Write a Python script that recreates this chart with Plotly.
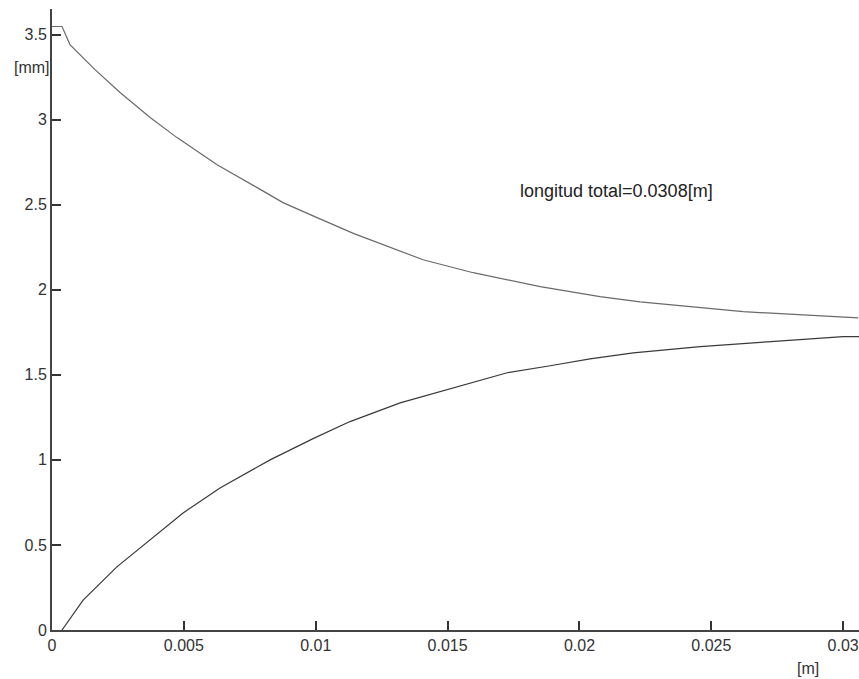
import plotly.graph_objects as go

# Upper profile (x in m, y in mm)
upper_x = [0.0, 0.00038, 0.00068, 0.00163, 0.00258, 0.00372, 0.00474, 0.00626,
           0.00778, 0.00876, 0.01005, 0.01145, 0.01407, 0.01597, 0.01851,
           0.02078, 0.02230, 0.02621, 0.03057]
upper_y = [3.547, 3.547, 3.441, 3.294, 3.159, 3.012, 2.894, 2.735,
           2.600, 2.512, 2.424, 2.33, 2.176, 2.100, 2.018,
           1.959, 1.929, 1.871, 1.835]

# Lower profile
lower_x = [0.00038, 0.00118, 0.00246, 0.00372, 0.00497, 0.00637, 0.00827,
           0.00990, 0.01130, 0.01320, 0.01528, 0.01726, 0.01889, 0.02040,
           0.02204, 0.02458, 0.02712, 0.02951, 0.03000, 0.03060]
lower_y = [0.0, 0.176, 0.371, 0.529, 0.688, 0.835, 1.000,
           1.125, 1.225, 1.335, 1.424, 1.512, 1.553, 1.594,
           1.629, 1.665, 1.694, 1.718, 1.724, 1.724]

x_ticks = [0, 0.005, 0.01, 0.015, 0.02, 0.025, 0.03]
x_tick_labels = ["0", "0.005", "0.01", "0.015", "0.02", "0.025", "0.03"]
y_ticks = [0, 0.5, 1, 1.5, 2, 2.5, 3, 3.5]
y_tick_labels = ["0", "0.5", "1", "1.5", "2", "2.5", "3", "3.5"]

annotation_text = "longitud total=0.0308[m]"
x_unit = "[m]"
y_unit = "[mm]"

fig = go.Figure()
fig.add_trace(go.Scatter(x=upper_x, y=upper_y, mode="lines",
                         line=dict(color="#6a6a6a", width=1.2),
                         showlegend=False, hoverinfo="skip"))
fig.add_trace(go.Scatter(x=lower_x, y=lower_y, mode="lines",
                         line=dict(color="#3a3a3a", width=1.2),
                         showlegend=False, hoverinfo="skip"))

tick_font = dict(family="Liberation Sans, Arial, sans-serif", size=16, color="#333333")

fig.update_layout(
    width=859, height=679,
    margin=dict(l=52, r=0, t=9, b=49),
    paper_bgcolor="white", plot_bgcolor="white",
    xaxis=dict(range=[0, 0.0306], tickvals=x_ticks, ticktext=x_tick_labels,
               ticks="inside", ticklen=9, tickwidth=1.5, tickcolor="#333333",
               showline=True, linecolor="#444444", linewidth=2, automargin=False,
               showgrid=False, zeroline=False, tickfont=tick_font),
    yaxis=dict(range=[0, 3.65], tickvals=y_ticks, ticktext=y_tick_labels,
               ticks="inside", ticklen=9, tickwidth=1.5, tickcolor="#333333",
               showline=True, linecolor="#444444", linewidth=2, automargin=False,
               showgrid=False, zeroline=False, tickfont=tick_font),
    annotations=[
        dict(x=0.0214, y=2.58, xref="x", yref="y", text=annotation_text,
             showarrow=False, font=dict(family="Liberation Sans, Arial, sans-serif",
                                         size=18, color="#222222")),
        dict(x=(808 - 52) / 807, y=-38 / 621, xref="paper", yref="paper", text=x_unit,
             showarrow=False, xanchor="center", yanchor="middle", font=tick_font),
        dict(x=0, y=(621 - 59) / 621, xref="paper", yref="paper", text=y_unit,
             showarrow=False, xanchor="right", yanchor="middle", font=tick_font),
    ],
)

fig.write_html("out.html", config={"displayModeBar": False},
               post_script="document.body.style.margin='0';document.body.style.overflow='hidden';")
